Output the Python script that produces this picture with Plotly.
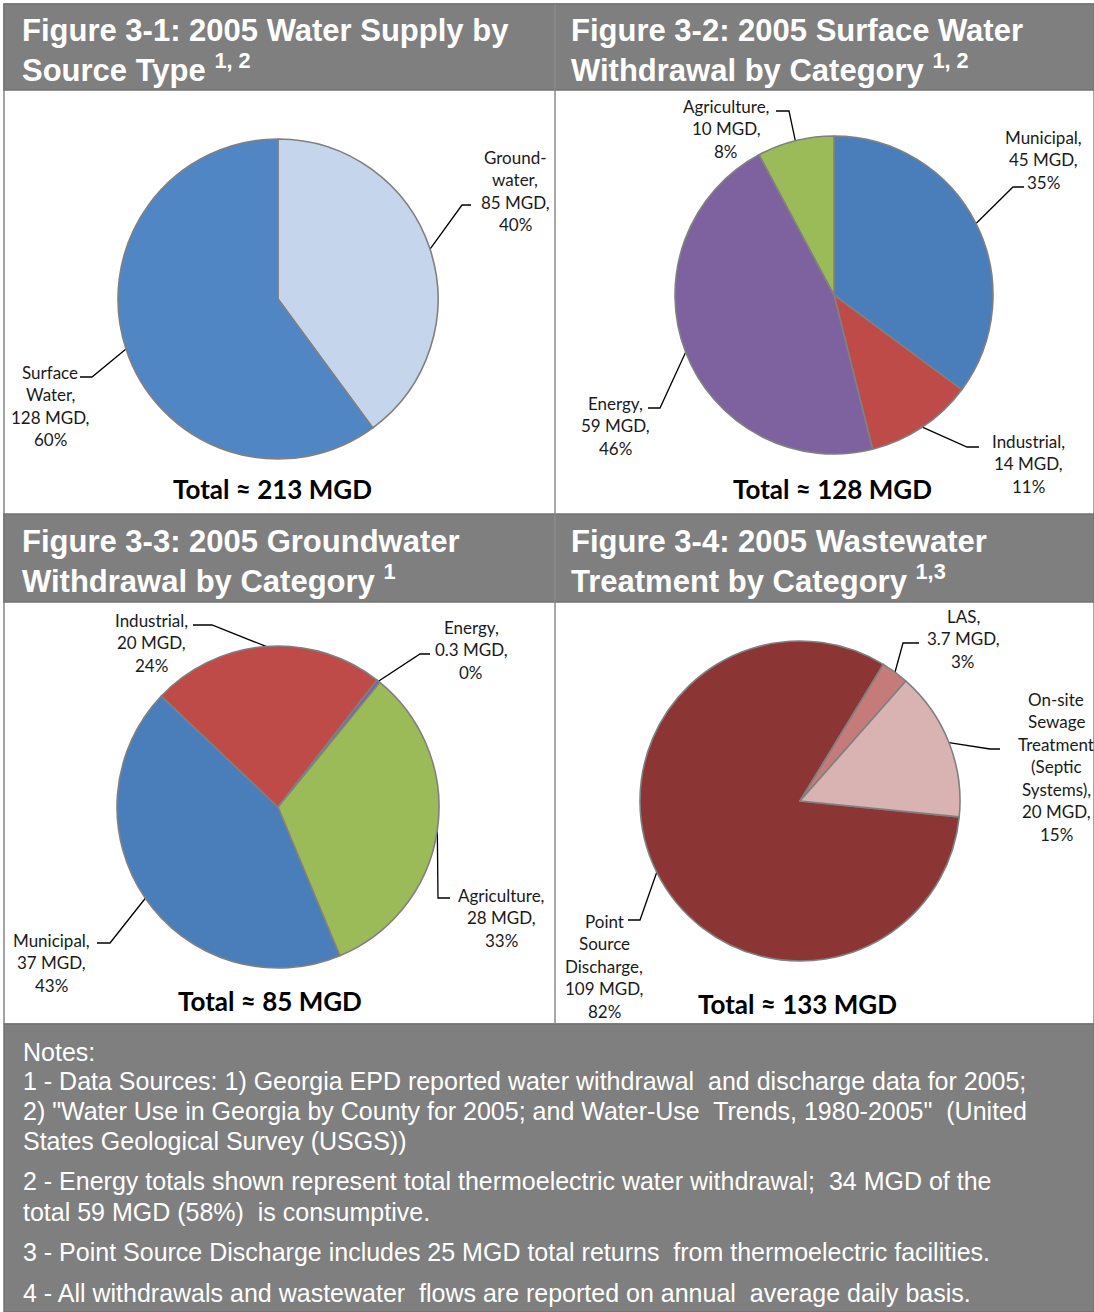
import math
import plotly.graph_objects as go

W, H = 1094, 1312

# ---- data ----
p1_labels = ["Groundwater", "Surface Water"]
p1_values = [85, 128]
p1_pct = [40, 60]

p2_labels = ["Municipal", "Industrial", "Energy", "Agriculture"]
p2_values = [45, 14, 59, 10]
p2_pct = [35, 11, 46, 8]

p3_labels = ["Municipal", "Industrial", "Energy", "Agriculture"]
p3_values = [37, 20, 0.3, 28]
p3_pct = [43, 24, 0, 33]

p4_labels = ["Point Source Discharge", "LAS", "On-site Sewage Treatment (Septic Systems)"]
p4_values = [109, 3.7, 20]
p4_pct = [82, 3, 15]

totals = ["Total \u2248 213 MGD", "Total \u2248 128 MGD", "Total \u2248 85 MGD", "Total \u2248 133 MGD"]

titles = [
    ["Figure 3-1: 2005 Water Supply by", "Source Type <sup>1, 2</sup>"],
    ["Figure 3-2: 2005 Surface Water", "Withdrawal by Category <sup>1, 2</sup>"],
    ["Figure 3-3: 2005 Groundwater", "Withdrawal by Category <sup>1</sup>"],
    ["Figure 3-4: 2005 Wastewater", "Treatment by Category <sup>1,3</sup>"],
]

notes = [
    "Notes:",
    "1 - Data Sources: 1) Georgia EPD reported water withdrawal  and discharge data for 2005;",
    "2) \"Water Use in Georgia by County for 2005; and Water-Use  Trends, 1980-2005\"  (United",
    "States Geological Survey (USGS))",
    "2 - Energy totals shown represent total thermoelectric water withdrawal;  34 MGD of the",
    "total 59 MGD (58%)  is consumptive.",
    "3 - Point Source Discharge includes 25 MGD total returns  from thermoelectric facilities.",
    "4 - All withdrawals and wastewater  flows are reported on annual  average daily basis.",
]

# ---- styling ----
GRAY = "#7F7F7F"
EDGE = "#868686"
LABEL_FONT = dict(family="Lato", size=17, color="#1a1a1a")
TOTAL_FONT = dict(family="Lato", size=26, color="#000000")
TITLE_FONT = dict(family="Liberation Sans", size=31, color="#FFFFFF")
NOTE_FONT = dict(family="Liberation Sans", size=25, color="#FFFFFF")

pies = [
    dict(labels=p1_labels, values=p1_values, pct=p1_pct, cx=278, cy=299, r=160, rot=0,
         colors=["#C5D6EC", "#5186C4"],
         text=[["Ground-", "water,"], ["Surface", "Water,"]],
         lab=[(515, 157), (50, 372)],
         elbow=[[(462, 205), (471, 205)], [(92, 377), (80, 377)]]),
    dict(labels=p2_labels, values=p2_values, pct=p2_pct, cx=834, cy=295, r=159, rot=0,
         colors=["#4A7EBB", "#BE4B48", "#7E629F", "#9BBB59"],
         text=[["Municipal,"], ["Industrial,"], ["Energy,"], ["Agriculture,"]],
         lab=[(1043, 137), (1028, 441), (615, 403), (726, 106)],
         elbow=[[(1013, 187), (1024, 187)], [(967, 447), (979, 447)],
                [(660, 408), (648, 408)], [(789, 111), (776, 111)]]),
    dict(labels=p3_labels, values=p3_values, pct=p3_pct, cx=278, cy=807, r=161, rot=157.4,
         colors=["#4A7EBB", "#BE4B48", "#7E629F", "#9BBB59"],
         text=[["Municipal,"], ["Industrial,"], ["Energy,"], ["Agriculture,"]],
         lab=[(51, 940), (151, 620), (471, 627), (501, 895)],
         elbow=[[(110, 943), (97, 943)], [(212, 625), (193, 625)],
                [(420, 654), (430, 654)], [(438, 898), (450, 898)]]),
    dict(labels=p4_labels, values=p4_values, pct=p4_pct, cx=800, cy=801, r=160, rot=95.7,
         colors=["#8C3535", "#C47B7A", "#D9B3B2"],
         text=[["Point", "Source", "Discharge,"], ["LAS,"],
               ["On-site", "Sewage", "Treatment", "(Septic", "Systems),"]],
         lab=[(604, 921), (963, 616), (1056, 699)],
         elbow=[[(640, 920), (628, 920)], [(903, 643), (919, 643)],
                [(990, 749), (1000, 749)]]),
]
total_pos = [(272, 489), (832, 489), (270, 1001), (797, 1004)]
title_pos = [(21, 50), (570, 50), (21, 561), (570, 561)]
note_y = [1052, 1081, 1111, 1141, 1181, 1212, 1252, 1293]
LINE_STEP = 22.5

fig = go.Figure()
shapes = []
annotations = []


def rect(x0, y0, x1, y1, fill, line=None, width=0):
    shapes.append(dict(type="rect", xref="x", yref="y", x0=x0, y0=y0, x1=x1, y1=y1,
                       fillcolor=fill, line=dict(color=line or fill, width=width),
                       layer="below"))


def fmt(v):
    return f"{v:g}"


# panel frame, headers and notes block
rect(4, 4, W, 1024, "#FFFFFF", EDGE, 1.5)
rect(4, 4, W, 90, GRAY, "#737373", 1.5)
rect(4, 514, W, 602, GRAY, "#737373", 1.5)
rect(4, 1024, W, H, GRAY, "#737373", 1.5)
shapes.append(dict(type="line", xref="x", yref="y", x0=555, x1=555, y0=4, y1=1024,
                   line=dict(color="#8a8a8a", width=1.5), layer="below"))

for p in pies:
    cx, cy, r = p["cx"], p["cy"], p["r"]
    fig.add_trace(go.Pie(
        labels=p["labels"], values=p["values"], sort=False, direction="clockwise",
        rotation=p["rot"], textinfo="none", hoverinfo="label+value",
        marker=dict(colors=p["colors"], line=dict(color="#808080", width=1.6)),
        domain=dict(x=[(cx - r) / W, (cx + r) / W], y=[1 - (cy + r) / H, 1 - (cy - r) / H]),
        showlegend=False,
    ))
    # leader lines start on the rim at each slice's mid-angle
    total = sum(p["values"])
    cum = 0.0
    for i, v in enumerate(p["values"]):
        mid = math.radians(p["rot"] + 360.0 * (cum + v / 2.0) / total)
        cum += v
        rx, ry = cx + r * math.sin(mid), cy - r * math.cos(mid)
        (ex, ey), (hx, hy) = p["elbow"][i]
        fig.add_trace(go.Scatter(x=[rx, ex, hx], y=[ry, ey, hy], mode="lines",
                                 line=dict(color="#000000", width=1.3),
                                 hoverinfo="skip", showlegend=False))
        lines = p["text"][i] + [f"{fmt(v)} MGD,", f"{p['pct'][i]}%"]
        lx, ly = p["lab"][i]
        for k, t in enumerate(lines):
            annotations.append(dict(x=lx, y=ly + k * LINE_STEP, xref="x", yref="y", text=t,
                                    showarrow=False, xanchor="center", yanchor="middle",
                                    font=LABEL_FONT))

for t, (x, y) in zip(totals, total_pos):
    annotations.append(dict(x=x, y=y, xref="x", yref="y", text=f"<b>{t}</b>", showarrow=False,
                            xanchor="center", yanchor="middle", font=TOTAL_FONT))

for (l1, l2), (x, y) in zip(titles, title_pos):
    annotations.append(dict(x=x, y=y, xref="x", yref="y", text=f"<b>{l1}<br>{l2}</b>",
                            showarrow=False, xanchor="left", yanchor="middle", align="left",
                            borderpad=0, font=TITLE_FONT))

for t, y in zip(notes, note_y):
    annotations.append(dict(x=21, y=y, xref="x", yref="y", text=t, showarrow=False,
                            xanchor="left", yanchor="middle", font=NOTE_FONT))

fig.update_layout(
    width=W, height=H, margin=dict(l=0, r=0, t=0, b=0),
    paper_bgcolor="#FFFFFF", plot_bgcolor="rgba(0,0,0,0)",
    xaxis=dict(range=[0, W], visible=False, fixedrange=True, domain=[0, 1]),
    yaxis=dict(range=[H, 0], visible=False, fixedrange=True, domain=[0, 1]),
    shapes=shapes, annotations=annotations,
)

fig.write_html("out.html")
